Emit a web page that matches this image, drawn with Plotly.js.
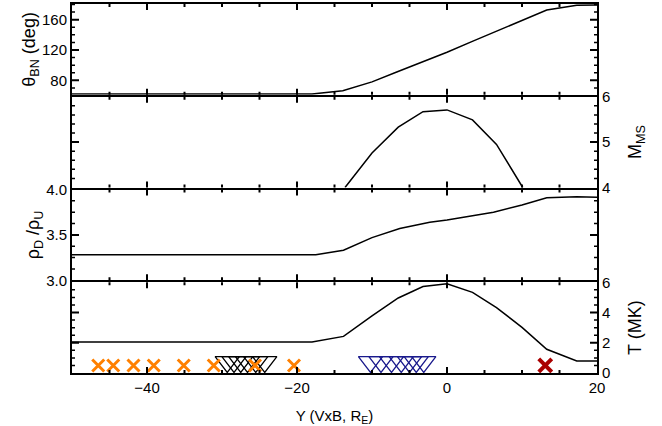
<!DOCTYPE html>
<html>
<head>
<meta charset="utf-8">
<script src="https://cdn.plot.ly/plotly-3.0.1.min.js"></script>
<style>
  html, body { margin: 0; padding: 0; background: #fff; }
  #plot { width: 662px; height: 426px; }
  .modebar-container, .modebar { display: none !important; }
</style>
</head>
<body>
<div id="plot"></div>
<script>
// Shock-normal angle along Y (VxB, R_E)
const thetaY   = [-50, -18, -13.9, -10, -6.7, -3.3, 0, 3.3, 6.7, 10, 13.3, 17.3, 20];
const thetaBN  = [62, 62, 66.3, 78, 91, 104, 117, 131, 145, 159, 172.6, 179, 179.3];

// Magnetosonic Mach number
const machY    = [-13.6, -10, -6.5, -3.2, 0, 3.4, 6.6, 10.1];
const machMS   = [4.0, 4.76, 5.33, 5.67, 5.71, 5.49, 4.95, 4.0];

// Density compression ratio
const rhoY     = [-50, -17.5, -13.8, -10, -6.3, -2.3, 0, 6.2, 10, 13.3, 17.3, 20];
const rhoRatio = [3.28, 3.28, 3.33, 3.47, 3.57, 3.64, 3.665, 3.75, 3.83, 3.91, 3.92, 3.915];

// Downstream temperature (MK)
const tempY    = [-50, -18, -13.8, -10, -6.5, -3.2, 0, 3.4, 6.6, 10, 13.3, 17.3, 20];
const tempMK   = [2.05, 2.05, 2.42, 3.78, 4.96, 5.72, 5.9, 5.33, 4.32, 3.02, 1.57, 0.8, 0.8];

// Event markers along the bottom of the temperature panel
const orangeY  = [-46.5, -44.5, -41.8, -39.1, -35.1, -31.1, -25.6, -20.4];
const orangeT  = [0.5, 0.5, 0.5, 0.5, 0.5, 0.5, 0.5, 0.5];
const blackY   = [-29.3, -28.4, -27.5, -26.6, -25.5, -24.3];
const blackT   = [0.73, 0.73, 0.73, 0.73, 0.73, 0.73];
const blueY    = [-10.2, -8.8, -7.4, -6.1, -5.0, -4.1, -3.1];
const blueT    = [0.73, 0.73, 0.73, 0.73, 0.73, 0.73, 0.73];
const redY     = [13.1];
const redT     = [0.5];

// Tick positions (major / minor) for the shared Y axis and each panel
const xMajor = [-40, -20, 0];
const xMinor = [-45, -35, -30, -25, -15, -10, -5, 5, 10, 15];
const thetaMajor = [80, 120, 160];
const thetaMinor = [70, 90, 100, 110, 130, 140, 150, 170, 180];
const machMajor  = [5];
const machMinor  = [4.2, 4.4, 4.6, 4.8, 5.2, 5.4, 5.6, 5.8];
const rhoMajor   = [3.5];
const rhoMinor   = [3.125, 3.25, 3.375, 3.625, 3.75, 3.875];
const tempMajor  = [2, 4];
const tempMinor  = [0.5, 1, 1.5, 2.5, 3, 3.5, 4.5, 5, 5.5];

const lineStyle = { color: '#000', width: 1.5 };

const traces = [
  { x: thetaY, y: thetaBN, xaxis: 'x', yaxis: 'y', mode: 'lines', line: lineStyle },
  { x: machY, y: machMS, xaxis: 'x2', yaxis: 'y2', mode: 'lines', line: lineStyle },
  { x: rhoY, y: rhoRatio, xaxis: 'x3', yaxis: 'y3', mode: 'lines', line: lineStyle },
  { x: tempY, y: tempMK, xaxis: 'x4', yaxis: 'y4', mode: 'lines', line: lineStyle },
  { x: blackY, y: blackT, xaxis: 'x4', yaxis: 'y4', mode: 'markers',
    marker: { symbol: 'triangle-down-open', size: 21, color: '#000', line: { width: 1.3, color: '#000' } } },
  { x: blueY, y: blueT, xaxis: 'x4', yaxis: 'y4', mode: 'markers',
    marker: { symbol: 'triangle-down-open', size: 21, color: '#1a1a8c', line: { width: 1.3, color: '#1a1a8c' } } },
  { x: orangeY, y: orangeT, xaxis: 'x4', yaxis: 'y4', mode: 'markers',
    marker: { symbol: 'x-thin-open', size: 12, color: '#ff8000', line: { width: 3, color: '#ff8000' } } },
  { x: redY, y: redT, xaxis: 'x4', yaxis: 'y4', mode: 'markers',
    marker: { symbol: 'x-thin-open', size: 13, color: '#aa0000', line: { width: 4, color: '#aa0000' } } }
];

const FAMILY = 'Liberation Sans, Arial, sans-serif';
const tickFont = { family: FAMILY, size: 15, color: '#000' };
const titleFont = { family: FAMILY, size: 18, color: '#000' };

// Panel heights with a 2 px seam so neighbouring frame lines coincide
const MARGIN = { l: 72, r: 65, t: 4, b: 53 };
const H = 426 - MARGIN.t - MARGIN.b;
const W = 662 - MARGIN.l - MARGIN.r;
const PANEL_PX = (H - 6) / 4;
const P = PANEL_PX / H;
const G = 2 / H;
const dom4 = [0, P];
const dom3 = [P + G, 2 * P + G];
const dom2 = [2 * P + 2 * G, 3 * P + 2 * G];
const dom1 = [3 * P + 3 * G, 1];

// Inward tick marks on all four sides of every panel
const MAJOR_X_LEN = 6, MAJOR_Y_LEN = 7, MINOR_LEN = 3;
function tickShapes(xr, yr, yMajor, yMinor) {
  const out = [];
  const seg = (v, len, w, vertical) => {
    if (vertical) {
      const f = len / PANEL_PX;
      out.push({ type: 'line', layer: 'above', xref: xr, yref: yr + ' domain', x0: v, x1: v, y0: 0, y1: f, line: { color: '#000', width: w } });
      out.push({ type: 'line', layer: 'above', xref: xr, yref: yr + ' domain', x0: v, x1: v, y0: 1, y1: 1 - f, line: { color: '#000', width: w } });
    } else {
      const f = len / W;
      out.push({ type: 'line', layer: 'above', xref: xr + ' domain', yref: yr, x0: 0, x1: f, y0: v, y1: v, line: { color: '#000', width: w } });
      out.push({ type: 'line', layer: 'above', xref: xr + ' domain', yref: yr, x0: 1, x1: 1 - f, y0: v, y1: v, line: { color: '#000', width: w } });
    }
  };
  xMajor.forEach(v => seg(v, MAJOR_X_LEN, 2, true));
  xMinor.forEach(v => seg(v, MINOR_LEN, 2, true));
  yMajor.forEach(v => seg(v, MAJOR_Y_LEN, 2, false));
  yMinor.forEach(v => seg(v, MINOR_LEN, 1.5, false));
  return out;
}

const shapes = [].concat(
  tickShapes('x',  'y',  thetaMajor, thetaMinor),
  tickShapes('x2', 'y2', machMajor,  machMinor),
  tickShapes('x3', 'y3', rhoMajor,   rhoMinor),
  tickShapes('x4', 'y4', tempMajor,  tempMinor)
);

function xAxis(anchor, labels) {
  const ax = {
    anchor: anchor, range: [-50, 20], showgrid: false, zeroline: false,
    showline: true, linewidth: 2, linecolor: '#000', mirror: true,
    ticks: '', tick0: 0, dtick: 20,
    showticklabels: labels, tickfont: tickFont
  };
  if (anchor !== 'y4') ax.matches = 'x4';
  return ax;
}

function yAxis(anchor, domain, range, dtick, side, title, fmt) {
  return {
    anchor: anchor, domain: domain, range: range, side: side, showgrid: false, zeroline: false,
    showline: true, linewidth: 2, linecolor: '#000', mirror: true,
    ticks: '', tick0: 0, dtick: dtick, tickformat: fmt,
    tickfont: tickFont,
    title: { text: title, font: titleFont, standoff: side === 'left' ? 0 : 19 }
  };
}

const layout = {
  width: 662, height: 426,
  margin: MARGIN,
  showlegend: false,
  shapes: shapes,
  xaxis:  xAxis('y', false),
  xaxis2: xAxis('y2', false),
  xaxis3: xAxis('y3', false),
  xaxis4: Object.assign(xAxis('y4', true), {
    title: { text: 'Y (VxB, R<sub>E</sub>)', font: { family: FAMILY, size: 15, color: '#000' } }
  }),
  yaxis:  yAxis('x',  dom1, [61, 180.6], 40,  'left',  '\u03b8<sub>BN</sub> (deg)', ''),
  yaxis2: yAxis('x2', dom2, [4, 6],      1,   'right', 'M<sub>MS</sub>', ''),
  yaxis3: yAxis('x3', dom3, [3, 4],      0.5, 'left',  '\u03c1<sub>D</sub> /\u03c1<sub>U</sub>', '.1f'),
  yaxis4: yAxis('x4', dom4, [0, 6],      2,   'right', 'T (MK)', '')
};

Plotly.newPlot('plot', traces, layout);
</script>
</body>
</html>
